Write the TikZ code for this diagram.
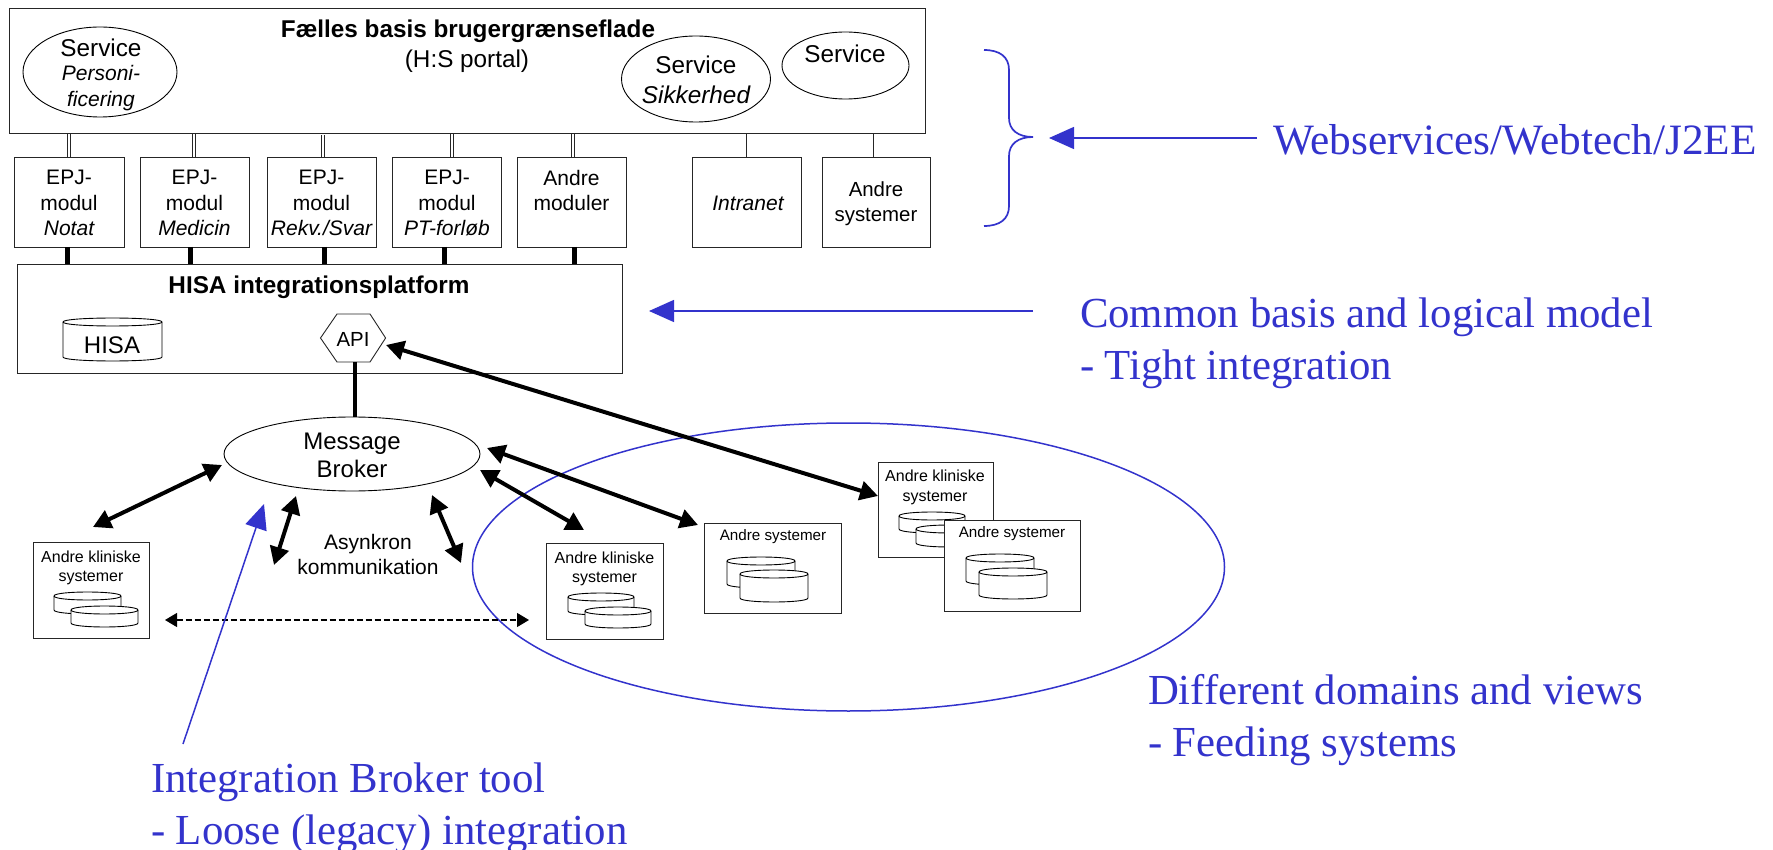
\documentclass[tikz,border=0pt]{standalone}
\usepackage{fontspec}
\setmainfont{Liberation Sans}
\newfontfamily\serifblue{Liberation Serif}
\usetikzlibrary{arrows.meta,shapes.geometric}
\definecolor{myblue}{HTML}{3333CC}
\tikzset{
  every node/.style={inner sep=0pt,outer sep=0pt},
  boxn/.style={draw=black!85,line width=.9pt,fill=white,rectangle,anchor=north west},
  ell/.style={draw=black,line width=.9pt,ellipse},
  txt/.style={font=\fontsize{24.3}{27}\selectfont,align=center},
  mtxt/.style={font=\fontsize{21}{25.3}\selectfont,align=center},
  txtb/.style={font=\fontsize{24.3}{27}\selectfont\bfseries,align=center},
  small/.style={font=\fontsize{16}{19.5}\selectfont,align=center},
  smallb/.style={font=\fontsize{15.2}{19.5}\selectfont,align=center},
  bluetxt/.style={font=\serifblue\fontsize{42.8}{52}\selectfont\color{myblue},align=left,anchor=west},
  thin/.style={draw=black!85,line width=.9pt},
  thickc/.style={draw=black,line width=5pt},
  bigarrow/.style={draw=black,line width=4pt,{Triangle[length=18pt,width=19pt]}-{Triangle[length=18pt,width=19pt]}},
  dasharrow/.style={draw=black,line width=1.1pt,dash pattern=on 6pt off 3pt,{Triangle[length=12pt,width=14pt]}-{Triangle[length=12pt,width=14pt]}},
  bluearrow/.style={draw=myblue,line width=1.5pt,-{Triangle[length=25pt,width=22pt]}},
  dbcyl/.style={draw=black,line width=.9pt,fill=white}
}
\newcommand{\boxnode}[5]{\node[boxn,minimum width=#4 pt - #2 pt,minimum height=#5 pt - #3 pt] (#1) at (#2,#3) {};}
\newcommand{\dblconn}[3][0]{%
  \draw[thin] ([xshift=#3 pt - 1.3pt]#2.north) -- ([xshift=#3 pt - 1.3pt,yshift=-#1 pt]#2.north |- top.south);
  \draw[thin] ([xshift=#3 pt + 1.3pt]#2.north) -- ([xshift=#3 pt + 1.3pt,yshift=-#1 pt]#2.north |- top.south);
}
\newcommand{\cyl}[4]{%
  \pgfmathsetmacro{\xa}{#1}\pgfmathsetmacro{\ya}{#2}\pgfmathsetmacro{\xb}{#3}\pgfmathsetmacro{\yb}{#4}%
  \pgfmathsetmacro{\ryy}{4}\pgfmathsetmacro{\ytop}{\ya+\ryy}\pgfmathsetmacro{\ybot}{\yb-\ryy}%
  \pgfmathsetmacro{\yctl}{\ybot+1.33*\ryy}\pgfmathsetmacro{\yctt}{\ytop-1.33*\ryy}\pgfmathsetmacro{\yctu}{\ytop+1.33*\ryy}%
  \draw[dbcyl] (\xa,\ytop) -- (\xa,\ybot) .. controls (\xa,\yctl) and (\xb,\yctl) .. (\xb,\ybot) -- (\xb,\ytop)
     .. controls (\xb,\yctt) and (\xa,\yctt) .. (\xa,\ytop) -- cycle;
  \draw[dbcyl,fill=none] (\xa,\ytop) .. controls (\xa,\yctu) and (\xb,\yctu) .. (\xb,\ytop);
}
\begin{document}
\begin{tikzpicture}[x=1pt,y=-1pt]
\useasboundingbox (0,0) rectangle (1773,850);
% blue ellipse under everything
\node[draw=myblue,line width=1.5pt,ellipse,minimum width=752pt,minimum height=288pt] (domain) at (848.5,567) {};

% top box
\boxnode{top}{9}{8}{925}{133}
\node[txtb] (toptitle) at (468,31) {Fælles basis brugergrænseflade};
\node[txt] (topsub) at (467,61) {(H:S portal)};
\node[ell,minimum width=154pt,minimum height=90pt] (s1) at (100,72) {};
\node[txt] (s1a) at (101,48) {Service};
\node[mtxt,font=\fontsize{21}{26}\selectfont\itshape] (s1t) at (101,88) {Personi-\\ficering};
\node[ell,minimum width=149pt,minimum height=86pt] (s2) at (696,79) {};
\node[txt] (s2t) at (696,80) {Service\\[3pt]\itshape Sikkerhed};
\node[ell,minimum width=127pt,minimum height=67pt] (s3) at (845.5,65.5) {};
\node[txt] (s3t) at (845,54) {Service};

% modules
\boxnode{m1}{14}{157}{124}{247}
\boxnode{m2}{140}{157}{249}{247}
\boxnode{m3}{267}{157}{376}{247}
\boxnode{m4}{392}{157}{501}{247}
\boxnode{m5}{517}{157}{626}{247}
\boxnode{m6}{692}{157}{801}{247}
\boxnode{m7}{822}{157}{930}{247}
\node[mtxt] (m1t) at (69,203) {EPJ-\\modul\\\itshape Notat};
\node[mtxt] (m2t) at (194.5,203) {EPJ-\\modul\\\itshape Medicin};
\node[mtxt] (m3t) at (321.5,203) {EPJ-\\modul\\\itshape Rekv./Svar};
\node[mtxt] (m4t) at (447,203) {EPJ-\\modul\\\itshape PT-forløb};
\node[mtxt] (m5t) at (571.5,190.5) {Andre\\moduler};
\node[mtxt] (m6t) at (748,203) {\itshape Intranet};
\node[mtxt,font=\fontsize{20.4}{25.3}\selectfont] (m7t) at (876,203.5) {Andre\\systemer};

% HISA platform
\boxnode{hisa}{17}{264}{622}{373}
\node[txtb] (hisat) at (319,287) {HISA integrationsplatform};
\cyl{63}{318}{162}{361}
\node[font=\fontsize{24}{28}\selectfont] (hisadb) at (112,345) {HISA};
\draw[thin,fill=white] (320.5,338) -- (337,314) -- (370,314) -- (385.6,338) -- (370,362) -- (337,362) -- cycle;
\node[font=\fontsize{20.4}{22}\selectfont] (api) at (353,339) {API};

% connectors top
\dblconn{m1}{0}
\dblconn{m2}{-.5}
\dblconn[2]{m3}{1.5}
\dblconn{m4}{5.5}
\dblconn{m5}{1.5}
\draw[thin] (m6.north) -- (m6.north |- top.south);
\draw[thin] ([xshift=-3pt]m7.north) -- ([xshift=-3pt]m7.north |- top.south);
% connectors thick
\draw[thickc] ([xshift=-2pt]m1.south) -- ([xshift=-2pt]m1.south |- hisa.north);
\draw[thickc] ([xshift=-4.5pt]m2.south) -- ([xshift=-4.5pt]m2.south |- hisa.north);
\draw[thickc] ([xshift=2.5pt]m3.south) -- ([xshift=2.5pt]m3.south |- hisa.north);
\draw[thickc] ([xshift=-2.5pt]m4.south) -- ([xshift=-2.5pt]m4.south |- hisa.north);
\draw[thickc] ([xshift=2.5pt]m5.south) -- ([xshift=2.5pt]m5.south |- hisa.north);

% broker
\node[ell,fill=white,minimum width=256pt,minimum height=74pt] (broker) at (352,454) {};
\node[font=\fontsize{24}{28}\selectfont,align=center] (brokert) at (352,455) {Message\\Broker};
\coordinate (apibot) at (355,362);
\draw[draw=black,line width=4pt] (apibot) -- (apibot |- broker.north);
\node[font=\fontsize{21}{25}\selectfont,align=center] (asyn) at (368,554.5) {Asynkron\\kommunikation};

% left clinical
\boxnode{k1}{33}{542}{149}{638}
\node[small] (k1t) at (91,568) {Andre kliniske\\systemer};
\cyl{54}{592}{121}{614}\cyl{71}{606}{138}{627}
% mid clinical
\boxnode{k2}{546}{543}{663}{639}
\node[small] (k2t) at (604.5,569) {Andre kliniske\\systemer};
\cyl{568}{593}{634}{615}\cyl{585}{607}{651}{628}
% andre systemer
\boxnode{a1}{704}{523}{841}{613}
\node[smallb] (a1t) at (773,537) {Andre systemer};
\cyl{727}{557}{795}{588}\cyl{740}{570}{808}{602}
% right clinical
\boxnode{k3}{878}{462}{993}{557}
\node[small] (k3t) at (935,487.5) {Andre kliniske\\systemer};
\cyl{899}{512}{965}{533}\cyl{916}{525}{982}{547}
% right andre
\boxnode{a2}{944}{520}{1080}{611}
\node[smallb] (a2t) at (1012,534) {Andre systemer};
\cyl{966}{554}{1034}{585}\cyl{979}{568}{1047}{599}

% arrow ends
\coordinate (e1a) at (222,465);\coordinate (e1b) at (93,527);
\coordinate (e2a) at (386,345);\coordinate (e2b) at (878,496);
\coordinate (e3a) at (487,448);\coordinate (e3b) at (698,525);
\coordinate (e4a) at (480,470);\coordinate (e4b) at (584,530);
\coordinate (e5a) at (296,496);\coordinate (e5b) at (274,565);
\coordinate (e6a) at (432,495);\coordinate (e6b) at (461,563);
\coordinate (d1) at (165,620);\coordinate (d2) at (529,620);
\draw[bigarrow] (e1a) -- (e1b);
\draw[bigarrow] (e2a) -- (e2b);
\draw[bigarrow] (e3a) -- (e3b);
\draw[bigarrow] (e4a) -- (e4b);
\draw[bigarrow] (e5a) -- (e5b);
\draw[bigarrow] (e6a) -- (e6b);
\draw[dasharrow] (d1) -- (d2);

% blue annotations
\node[bluetxt,font=\serifblue\fontsize{43.3}{52}\selectfont\color{myblue}] (tw) at (1273,140) {Webservices/Webtech/J2EE};
\node[bluetxt] (tc) at (1080,343) {Common basis and logical model\\- Tight integration};
\node[bluetxt] (td) at (1148,720) {Different domains and views\\- Feeding systems};
\node[bluetxt] (ti) at (151,808) {Integration Broker tool\\- Loose (legacy) integration};
\coordinate (b1s) at (1257,138);\coordinate (b1e) at (1049,138);
\coordinate (b2s) at (1033,311);\coordinate (b2e) at (649,311);
\coordinate (b3s) at (183,744);\coordinate (b3e) at (264,504);
\draw[bluearrow] (b1s) -- (b1e);
\draw[bluearrow] (b2s) -- (b2e);
\draw[bluearrow] (b3s) -- (b3e);
% brace
\draw[draw=myblue,line width=1.7pt] (984,50) .. controls (1000,50) and (1009,57) .. (1009,70) -- (1009,118)
  .. controls (1009,130) and (1018,137) .. (1033,137) .. controls (1018,137) and (1009,144) .. (1009,156)
  -- (1009,206) .. controls (1009,219) and (1000,226) .. (984,226);
\end{tikzpicture}
\end{document}
